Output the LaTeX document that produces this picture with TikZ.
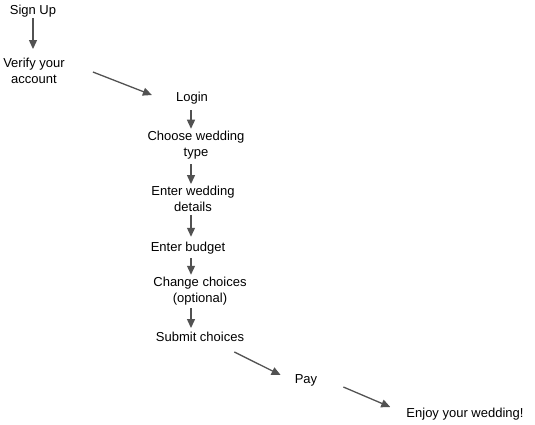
\documentclass[tikz,border=0pt]{standalone}
\usepackage{fontspec}
\setmainfont{Liberation Sans}
\usetikzlibrary{arrows.meta}
\begin{document}
\begin{tikzpicture}
[x=1bp, y=-1bp,
 nodes={inner sep=0pt, align=center, font=\fontsize{13bp}{16bp}\selectfont},
 >={Stealth[inset=0pt, length=9bp, width=8bp]},
 step arrow/.style={->, draw=black!68, line width=1.3bp}]
\useasboundingbox (0,0) rectangle (535,424);

\node (SignUp) at (33,11) {Sign Up};
\node (Verify) at (34,71) {Verify your\\account};
\node (Login) at (192,98) {Login};
\node (Choose) at (196,145) {Choose wedding\\type};
\node (Details) at (193,199) {Enter wedding\\details};
\node (Budget) at (188,248) {Enter budget};
\node (Change) at (200,291) {Change choices\\(optional)};
\node (Submit) at (200,337) {Submit choices};
\node (Pay) at (306,380) {Pay};
\node (Enjoy) at (465,414) {Enjoy your wedding!};

\draw[step arrow, shorten <=1bp, shorten >=9bp] (SignUp.south) -- (SignUp |- Verify.north);
\draw[step arrow] ([xshift=28bp,yshift=-1bp]Verify.east) -- ([xshift=-24bp,yshift=3bp]Login.west);
\draw[step arrow, shorten <=6bp, shorten >=2bp] ([xshift=-1bp]Login.south) -- ([xshift=-1bp]Login |- Choose.north);
\draw[step arrow, shorten <=5bp, shorten >=2bp] ([xshift=-1bp]Login |- Choose.south) -- ([xshift=-1bp]Login |- Details.north);
\draw[step arrow, shorten <=3bp, shorten >=5bp] ([xshift=-1bp]Login |- Details.south) -- ([xshift=-1bp]Login |- Budget.north);
\draw[step arrow, shorten <=4bp, shorten >=2bp] ([xshift=-1bp]Login |- Budget.south) -- ([xshift=-1bp]Login |- Change.north);
\draw[step arrow, shorten <=3bp, shorten >=4bp] ([xshift=-1bp]Login |- Change.south) -- ([xshift=-1bp]Login |- Submit.north);
\draw[step arrow] ([xshift=-10bp,yshift=-10bp]Submit.south east) -- ([xshift=-14bp,yshift=5bp]Pay.west);
\draw[step arrow] ([xshift=26bp,yshift=-7bp]Pay.east) -- ([xshift=-16bp,yshift=7bp]Enjoy.west);
\end{tikzpicture}
\end{document}
